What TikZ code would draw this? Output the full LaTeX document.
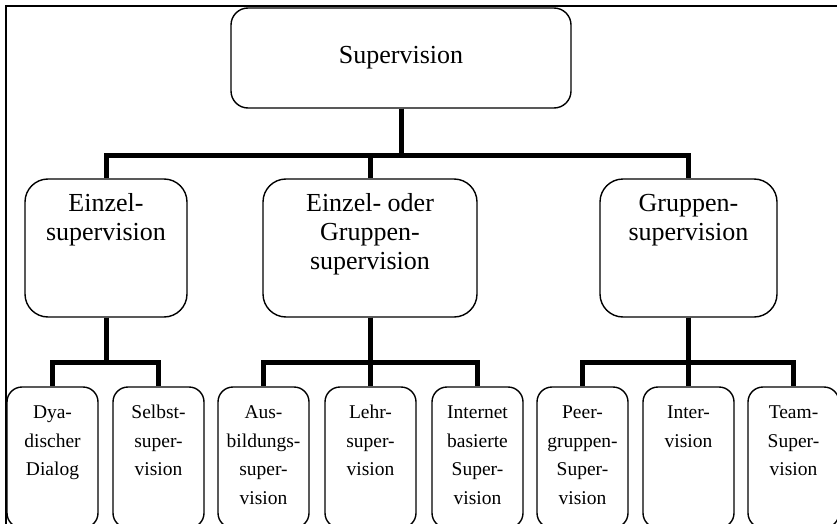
\documentclass[tikz,border=0pt]{standalone}
\usepackage{fontspec}
\setmainfont{Liberation Serif}
% fixed-size cell whose lines start at the top; #3 sets the first baseline
\newcommand{\celltext}[4]{\parbox[c][#2][t]{#1}{\centering\rule{0pt}{#3}#4}}
\tikzset{
  frameline/.style={line width=2pt},
  box/.style={draw, line width=1.4pt, inner sep=0pt, fill=white},
  rootbox/.style={box, rounded corners=17pt, minimum width=340pt, minimum height=100pt,
    font=\fontsize{26}{30}\selectfont},
  groupbox/.style={box, rounded corners=23pt, font=\fontsize{26}{29}\selectfont},
  leafbox/.style={box, rounded corners=15pt, font=\fontsize{19.5}{28.7}\selectfont},
  conn/.style={line width=5pt, line join=miter},
}
\newcommand{\leaf}[1]{\celltext{91pt}{141pt}{31.5pt}{#1}}
\newcommand{\group}[2]{\celltext{#1}{138pt}{32.5pt}{#2}}
\begin{document}
\begin{tikzpicture}[x=1pt,y=-1pt]
  \useasboundingbox (0,0) rectangle (837,524);
  \clip (0,0) rectangle (837,524);
  \fill[white] (0,0) rectangle (837,524);

  % outer frame (left and top edges)
  \coordinate (fbl) at (5.5,540);
  \coordinate (ftr) at (850,6.5);
  \draw[frameline] (fbl) |- (ftr);

  % root
  \node[rootbox] (sup) at (401,58) {Supervision};

  % second level
  \node[groupbox] (ez) at (106,248)   {\group{162pt}{Einzel-\\supervision}};
  \node[groupbox] (eg) at (370,248)   {\group{214pt}{Einzel- oder\\Gruppen-\\supervision}};
  \node[groupbox] (gr) at (688.5,248) {\group{177pt}{Gruppen-\\supervision}};

  % third level
  \node[leafbox] (dy) at (52.5,457.5)  {\leaf{Dya-\\discher\\Dialog}};
  \node[leafbox] (se) at (158.5,457.5) {\leaf{Selbst-\\super-\\vision}};
  \node[leafbox] (au) at (263.5,457.5) {\leaf{Aus-\\bildungs-\\super-\\vision}};
  \node[leafbox] (le) at (370.5,457.5) {\leaf{Lehr-\\super-\\vision}};
  \node[leafbox] (in) at (477.5,457.5) {\leaf{Internet\\basierte\\Super-\\vision}};
  \node[leafbox] (pe) at (582.5,457.5) {\leaf{Peer-\\gruppen-\\Super-\\vision}};
  \node[leafbox] (iv) at (688.5,457.5) {\leaf{Inter-\\vision}};
  \node[leafbox] (te) at (793.5,457.5) {\leaf{Team-\\Super-\\vision}};

  % connectors
  \foreach \c in {ez,eg,gr}
    \draw[conn] (sup.south) -- ++(0,47) -| (\c.north);
  \foreach \c in {dy,se}
    \draw[conn] (ez.south) -- ++(0,45) -| (\c.north);
  \foreach \c in {au,le,in}
    \draw[conn] (eg.south) -- ++(0,45) -| (\c.north);
  \foreach \c in {pe,iv,te}
    \draw[conn] (gr.south) -- ++(0,45) -| (\c.north);
\end{tikzpicture}
\end{document}
